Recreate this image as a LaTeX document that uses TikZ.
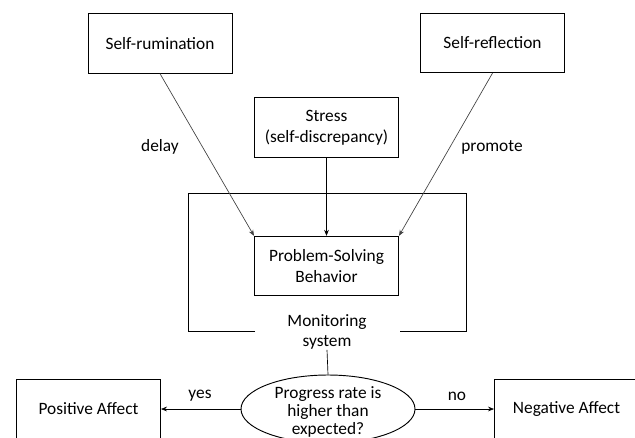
\documentclass[tikz,border=0pt]{standalone}
\usepackage{fontspec}
\setmainfont{Carlito}
\usetikzlibrary{shapes.geometric,arrows.meta}
\begin{document}
\begin{tikzpicture}[x={(0.75pt,0)},y={(0,-0.75pt)},
  box/.style={draw,line width=0.7pt,minimum width=108pt,minimum height=44.5pt,inner sep=0pt,align=center,font=\fontsize{13}{15.5}\selectfont},
  lbl/.style={inner sep=0pt,font=\fontsize{13}{15.5}\selectfont,align=center},
  conn/.style={line width=0.5pt,-{Stealth[length=4.5pt,width=3.5pt]}},
  thin line/.style={line width=0.5pt}]
\useasboundingbox (0,0) rectangle (635,437);
\clip (0,0) rectangle (635,437);
\node[box] (srum) at (160,43.5) {Self-rumination};
\node[box] (sref) at (492.5,43) {Self-reflection};
\node[box] (stress) at (326.5,127.5) {Stress\\(self-discrepancy)};
\node[box] (psb) at (326.5,266) {Problem-Solving\\Behavior};
\node[lbl] (mon) at (327,332) {Monitoring\\system};
\coordinate (fl) at (255,331);
\coordinate (fr) at (400,331);
\draw[line width=0.7pt] (fl) -- (188,331) -- (188,193) -- (466,193) -- (466,331) -- (fr);
\node[draw,ellipse,line width=0.7pt,minimum width=130.5pt,minimum height=51pt,inner sep=0pt] (q) at (328,409) {};
\node[lbl,font=\fontsize{13}{13.8}\selectfont] (qt) at (328,412) {Progress rate is\\higher than\\expected?};
\node[box] (pos) at (88.5,409) {Positive Affect};
\node[box] (neg) at (566.5,409) {Negative Affect};
\draw[conn,black!75] (srum.south) -- (psb.north west);
\draw[conn,black!75] (sref.south) -- (psb.north east);
\draw[conn] (stress.south) -- (psb.north);
\draw[thin line] (mon.south) -- (q.north);
\draw[conn] (q.west) -- (pos.east);
\draw[conn] (q.east) -- (neg.west);
\node[lbl] (ldelay) at (160,147) {delay};
\node[lbl] (lprom) at (492,147) {promote};
\node[lbl] (lyes) at (200,396) {yes};
\node[lbl] (lno) at (457,396) {no};
\end{tikzpicture}
\end{document}
